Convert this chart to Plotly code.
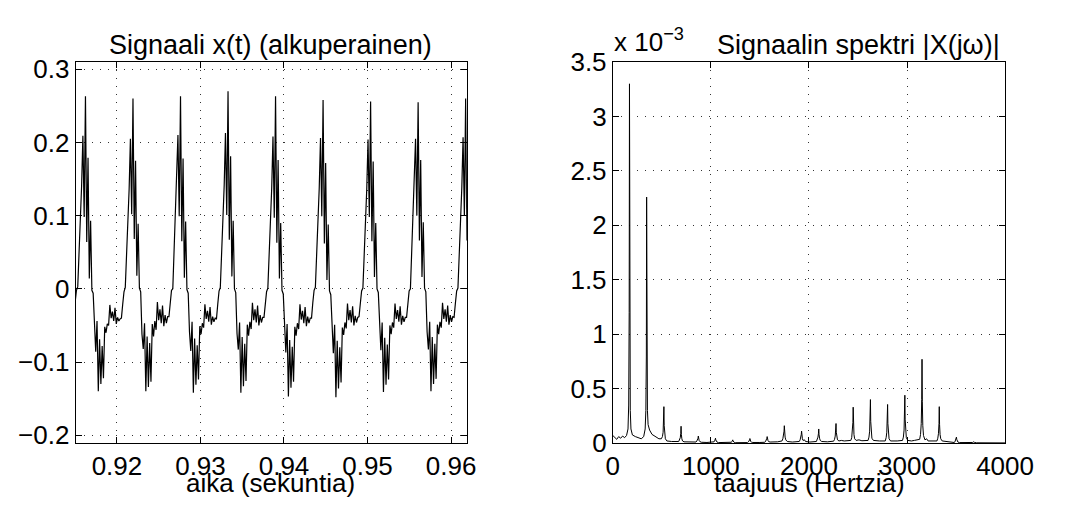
import numpy as np
import plotly.graph_objects as go

# ---------------- data: left panel, signal x(t) ----------------
T0 = 0.915          # first sample time (s)
DT = 0.00015378     # sample spacing (s)

p1 = [-0.018, -0.002, 0.003, 0.047, 0.097, 0.140, 0.209, 0.098, 0.263, 0.064, 0.179, 0.014,
      0.093, -0.002, -0.006, -0.058, -0.086, -0.044, -0.140, -0.069, -0.130, -0.078, -0.122, -0.052,
      -0.060, -0.048, -0.050, -0.022, -0.040, -0.031, -0.044, -0.026, -0.048, -0.039, -0.044, -0.041]
p2 = [-0.040, -0.021, -0.004, 0.002, 0.044, 0.094, 0.136, 0.205, 0.102, 0.260, 0.068, 0.175, 0.018,
      0.089, 0.001, -0.004, -0.062, -0.082, -0.047, -0.140, -0.065, -0.134, -0.074, -0.127, -0.048,
      -0.065, -0.044, -0.056, -0.018, -0.043, -0.028, -0.047, -0.023, -0.051, -0.036, -0.047, -0.038]
p3 = [-0.038, -0.019, -0.002, 0.000, 0.046, 0.096, 0.139, 0.210, 0.099, 0.263, 0.065, 0.178, 0.015,
      0.092, -0.001, -0.006, -0.059, -0.085, -0.045, -0.142, -0.068, -0.131, -0.077, -0.124, -0.051,
      -0.062, -0.047, -0.053, -0.021, -0.041, -0.030, -0.045, -0.025, -0.049, -0.038, -0.045, -0.040]
p4 = [-0.041, -0.021, -0.003, 0.002, 0.047, 0.098, 0.141, 0.213, 0.101, 0.270, 0.067, 0.181, 0.017,
      0.093, 0.000, -0.005, -0.061, -0.083, -0.046, -0.142, -0.066, -0.133, -0.075, -0.126, -0.049,
      -0.064, -0.045, -0.055, -0.019, -0.043, -0.028, -0.046, -0.023, -0.050, -0.036, -0.046, -0.039]
p5 = [-0.039, -0.020, -0.004, 0.001, 0.044, 0.094, 0.137, 0.208, 0.097, 0.263, 0.063, 0.176, 0.014,
      0.090, -0.002, -0.007, -0.063, -0.087, -0.048, -0.147, -0.070, -0.135, -0.079, -0.127, -0.052,
      -0.064, -0.047, -0.055, -0.021, -0.042, -0.030, -0.047, -0.025, -0.051, -0.038, -0.047, -0.040]
p6 = [-0.040, -0.019, -0.002, 0.002, 0.045, 0.095, 0.137, 0.206, 0.099, 0.258, 0.062, 0.172, 0.012,
      0.088, -0.003, -0.008, -0.064, -0.088, -0.049, -0.148, -0.071, -0.136, -0.080, -0.128, -0.053,
      -0.063, -0.046, -0.054, -0.020, -0.043, -0.029, -0.046, -0.024, -0.050, -0.037, -0.046, -0.039]
p7 = [-0.038, -0.020, -0.003, 0.001, 0.044, 0.093, 0.136, 0.204, 0.098, 0.256, 0.065, 0.174, 0.016,
      0.090, 0.000, -0.005, -0.060, -0.084, -0.046, -0.141, -0.067, -0.131, -0.076, -0.124, -0.050,
      -0.062, -0.046, -0.053, -0.020, -0.041, -0.029, -0.045, -0.024, -0.049, -0.037, -0.045, -0.039]
p8 = [-0.039, -0.021, -0.003, 0.000, 0.045, 0.094, 0.137, 0.205, 0.100, 0.255, 0.066, 0.176, 0.016,
      0.091, 0.001, -0.004, -0.059, -0.083, -0.045, -0.140, -0.066, -0.130, -0.075, -0.123, -0.049,
      -0.062, -0.045, -0.053, -0.019, -0.041, -0.028, -0.045, -0.023, -0.049, -0.036, -0.045, -0.038]
p9 = [-0.039, -0.020, -0.003, 0.001, 0.045, 0.095, 0.138, 0.207, 0.100, 0.260, 0.066, 0.177]

signal = p1 + p2 + p3 + p4 + p5 + p6 + p7 + p8 + p9
time = T0 + DT * np.arange(len(signal))

# ---------------- data: right panel, spectrum |X(jw)| (x 1e-3) ----------------
freq = [0, 20, 40, 60, 80, 100, 120, 140, 155, 162, 167, 170, 173, 178, 185, 200, 230, 260, 290,
        315, 330, 337, 342, 345, 348, 353, 360, 375, 400, 430, 470,
        495, 506, 513, 518, 521, 524, 529, 536, 551, 600,
        672, 681, 688, 693, 696, 699, 704, 711, 726, 780,
        848, 857, 864, 869, 872, 875, 880, 887, 902, 960,
        1023, 1032, 1039, 1044, 1047, 1050, 1055, 1062, 1077, 1140,
        1199, 1208, 1215, 1220, 1223, 1226, 1231, 1238, 1253, 1320,
        1374, 1383, 1390, 1395, 1398, 1401, 1406, 1413, 1428, 1500,
        1550, 1559, 1566, 1571, 1574, 1577, 1582, 1589, 1604, 1680,
        1725, 1734, 1741, 1746, 1749, 1752, 1757, 1764, 1779, 1830, 1870,
        1901, 1910, 1917, 1922, 1925, 1928, 1933, 1940, 1955, 1965, 2010,
        2076, 2085, 2092, 2097, 2100, 2103, 2108, 2115, 2130, 2190,
        2252, 2261, 2268, 2273, 2276, 2279, 2284, 2291, 2306, 2330, 2360,
        2427, 2436, 2443, 2448, 2451, 2454, 2459, 2466, 2481, 2510, 2540,
        2603, 2612, 2619, 2624, 2627, 2630, 2635, 2642, 2657, 2690, 2720,
        2778, 2787, 2794, 2799, 2802, 2805, 2810, 2817, 2832, 2870, 2900,
        2954, 2963, 2970, 2975, 2978, 2981, 2986, 2993, 3008, 3045, 3075,
        3129, 3138, 3145, 3150, 3153, 3156, 3161, 3168, 3183, 3200, 3215, 3250,
        3305, 3314, 3321, 3326, 3329, 3332, 3337, 3344, 3359, 3420,
        3480, 3489, 3496, 3501, 3504, 3507, 3512, 3519, 3534, 3600,
        3656, 3670, 3680, 3690, 3710, 3800, 3900, 4000]
mag = [0.07, 0.05, 0.035, 0.06, 0.045, 0.065, 0.05, 0.07, 0.13, 0.35, 1.2, 3.30, 1.1, 0.3, 0.13, 0.075, 0.06, 0.05, 0.04,
       0.06, 0.13, 0.3, 0.8, 2.26, 0.75, 0.3, 0.17, 0.12, 0.08, 0.06, 0.04,
       0.04, 0.06, 0.1, 0.18, 0.335, 0.16, 0.08, 0.04, 0.02, 0.015,
       0.015, 0.03, 0.05, 0.09, 0.155, 0.08, 0.04, 0.02, 0.012, 0.01,
       0.01, 0.02, 0.03, 0.045, 0.065, 0.04, 0.025, 0.015, 0.008, 0.006,
       0.006, 0.012, 0.02, 0.03, 0.045, 0.03, 0.018, 0.01, 0.005, 0.004,
       0.004, 0.008, 0.013, 0.02, 0.03, 0.02, 0.012, 0.007, 0.004, 0.004,
       0.005, 0.012, 0.02, 0.03, 0.042, 0.028, 0.016, 0.009, 0.006, 0.006,
       0.008, 0.018, 0.03, 0.045, 0.06, 0.04, 0.025, 0.014, 0.01, 0.012,
       0.02, 0.04, 0.07, 0.11, 0.16, 0.1, 0.055, 0.03, 0.015, 0.01, 0.012,
       0.015, 0.03, 0.05, 0.08, 0.11, 0.07, 0.04, 0.025, 0.03, 0.015, 0.01,
       0.015, 0.03, 0.055, 0.09, 0.13, 0.08, 0.045, 0.025, 0.015, 0.012,
       0.018, 0.035, 0.065, 0.11, 0.18, 0.1, 0.055, 0.03, 0.02, 0.025, 0.02,
       0.025, 0.05, 0.1, 0.19, 0.33, 0.17, 0.08, 0.04, 0.025, 0.03, 0.022,
       0.025, 0.055, 0.11, 0.22, 0.40, 0.2, 0.09, 0.045, 0.025, 0.02, 0.02,
       0.02, 0.05, 0.1, 0.2, 0.355, 0.18, 0.085, 0.04, 0.02, 0.018, 0.02,
       0.025, 0.055, 0.12, 0.24, 0.44, 0.22, 0.1, 0.05, 0.025, 0.02, 0.025,
       0.035, 0.08, 0.18, 0.4, 0.77, 0.38, 0.16, 0.07, 0.03, 0.04, 0.02, 0.02,
       0.02, 0.045, 0.09, 0.18, 0.335, 0.17, 0.08, 0.04, 0.02, 0.01,
       0.006, 0.012, 0.025, 0.04, 0.055, 0.035, 0.018, 0.01, 0.005, 0.004,
       0.003, 0.006, 0.012, 0.006, 0.003, 0.002, 0.002, 0.002]

left_xticks = [0.92, 0.93, 0.94, 0.95, 0.96]
left_yticks = [-0.2, -0.1, 0, 0.1, 0.2, 0.3]
right_xticks = [0, 1000, 2000, 3000, 4000]
right_yticks = [0, 0.5, 1, 1.5, 2, 2.5, 3, 3.5]
right_yticklabels = ["0", "0.5", "1", "1.5", "2", "2.5", "3", "3.5"]

# ---------------- figure ----------------
W, H = 1065, 508
FONT = "Liberation Sans, Arial, Helvetica, sans-serif"
FS = 26

fig = go.Figure()
fig.add_trace(go.Scatter(x=time, y=signal, mode="lines", line=dict(color="black", width=1.2),
                         xaxis="x", yaxis="y", showlegend=False, hoverinfo="skip"))
fig.add_trace(go.Scatter(x=freq, y=mag, mode="lines", line=dict(color="black", width=1),
                         xaxis="x2", yaxis="y2", showlegend=False, hoverinfo="skip"))

def px_x(p):
    return p / W

def px_y(p):
    return 1 - p / H

axis_common = dict(showline=True, linecolor="black", linewidth=1, mirror="ticks",
                   ticks="inside", ticklen=6, tickcolor="black", tickwidth=1,
                   showgrid=True, gridcolor="#333333", griddash="1px,7px", gridwidth=1,
                   zeroline=False, tickfont=dict(family=FONT, size=FS, color="black"))

fig.update_layout(
    width=W, height=H, margin=dict(l=0, r=0, t=0, b=0),
    paper_bgcolor="white", plot_bgcolor="white",
    font=dict(family=FONT, size=FS, color="black"),
    xaxis=dict(domain=[px_x(71), px_x(476)], range=[0.91505, 0.9619],
               tickvals=left_xticks, anchor="y", **axis_common),
    yaxis=dict(domain=[px_y(455), px_y(50)], range=[-0.2108, 0.3098],
               tickvals=left_yticks, anchor="x", **axis_common),
    xaxis2=dict(domain=[px_x(627), px_x(1033)], range=[0, 4000],
                tickvals=right_xticks, anchor="y2", **axis_common),
    yaxis2=dict(domain=[px_y(455), px_y(50)], range=[0, 3.5],
                tickvals=right_yticks, ticktext=right_yticklabels, anchor="x2", **axis_common),
    annotations=[
        dict(text="Signaali x(t) (alkuperainen)", x=px_x(273), y=px_y(49.5), xref="paper", yref="paper",
             xanchor="center", yanchor="bottom", showarrow=False, font=dict(size=FS + 1)),
        dict(text="aika (sekuntia)", x=px_x(273), y=px_y(497), xref="paper", yref="paper",
             xanchor="center", yanchor="middle", showarrow=False, font=dict(size=FS)),
        dict(text="Signaalin spektri |X(jω)|", x=px_x(881), y=px_y(49.5), xref="paper", yref="paper",
             xanchor="center", yanchor="bottom", showarrow=False, font=dict(size=FS + 1)),
        dict(text="taajuus (Hertzia)", x=px_x(831), y=px_y(497), xref="paper", yref="paper",
             xanchor="center", yanchor="middle", showarrow=False, font=dict(size=FS)),
        dict(text="x 10<sup>−3</sup>", x=px_x(626), y=px_y(47), xref="paper", yref="paper",
             xanchor="left", yanchor="bottom", showarrow=False, font=dict(size=FS)),
    ],
)

fig.write_html("out.html")
